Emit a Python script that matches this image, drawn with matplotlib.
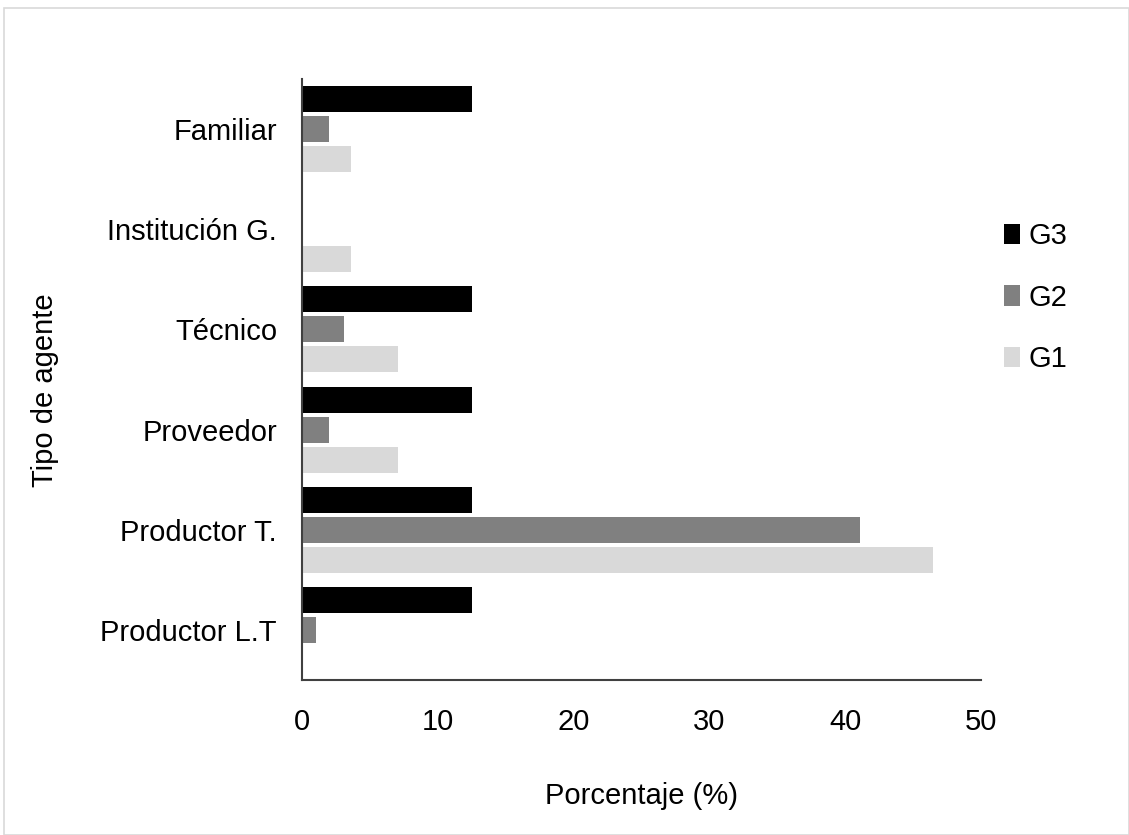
import matplotlib
matplotlib.use("Agg")
import matplotlib.pyplot as plt
from matplotlib import font_manager
import numpy as np

categories = ["Familiar", "Institución G.", "Técnico", "Proveedor", "Productor T.", "Productor L.T"]
g3 = [12.5, 0, 12.5, 12.5, 12.5, 12.5]
g2 = [2.0, 0, 3.1, 2.0, 41.1, 1.0]
g1 = [3.6, 3.6, 7.1, 7.1, 46.5, 0]
xticks = [0, 10, 20, 30, 40, 50]

names = {f.name for f in font_manager.fontManager.ttflist}
fam = [f for f in ["Liberation Sans Narrow", "Liberation Sans", "DejaVu Sans"] if f in names]
plt.rcParams['font.family'] = fam
fs = 21

fig = plt.figure(figsize=(11.29, 8.35), dpi=100)
# light frame
fig.patches.append(plt.Rectangle((4/1129, 0), 1 - 4/1129, 1 - 8/835, transform=fig.transFigure,
                                 fill=False, edgecolor="#d9d9d9", linewidth=1.2))
ax = fig.add_axes([302/1129, 1 - 680/835, (981-302)/1129, (680-79)/835])

y = np.arange(len(categories))
h = 0.26
off = 0.30
ax.barh(y - off, g3, height=h, color="#000000", label="G3")
ax.barh(y, g2, height=h, color="#808080", label="G2")
ax.barh(y + off, g1, height=h, color="#d9d9d9", label="G1")

ax.set_ylim(len(categories) - 0.5, -0.5)
ax.set_xlim(0, 50)
ax.set_xticks(xticks)
ax.set_xticklabels([str(v) for v in xticks])
ax.set_yticks(y)
ax.set_yticklabels(categories)
ax.tick_params(axis="both", length=0, labelsize=fs, colors="#000000")
ax.tick_params(axis="x", pad=20)
ax.tick_params(axis="y", pad=18)
for s in ["top", "right"]:
    ax.spines[s].set_visible(False)
for s in ["left", "bottom"]:
    ax.spines[s].set_color("#404040")
    ax.spines[s].set_linewidth(1.5)

ax.set_xlabel("Porcentaje (%)", fontsize=fs, labelpad=33)
fig.text(45/1129, 1 - 390/835, "Tipo de agente", rotation=90, fontsize=fs, ha="center", va="center")

leg = ax.legend(loc="center left", bbox_to_anchor=(0.995, 0.636), frameon=False, fontsize=fs,
                handlelength=0.55, handleheight=0.7, handletextpad=0.3, labelspacing=1.15)

fig.savefig("out.png", dpi=100)
